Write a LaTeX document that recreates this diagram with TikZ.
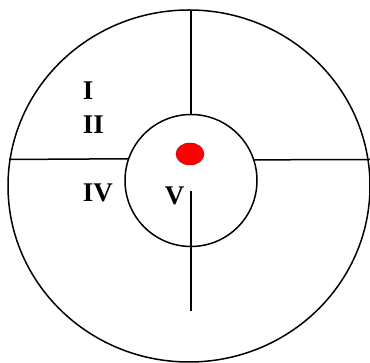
\documentclass[tikz,border=0pt]{standalone}
\usepackage{fontspec}
\setmainfont{Liberation Serif}
\usetikzlibrary{shapes.geometric}
\begin{document}
\begin{tikzpicture}[x=1pt,y=1pt,line width=1.5pt,
  lab/.style={font=\fontsize{27}{27}\selectfont\bfseries,inner sep=0pt,anchor=base west},
  ring/.style={draw,inner sep=0pt}]
\useasboundingbox (0,0) rectangle (370,363);
\fill[white] (0,0) rectangle (370,363);
\node[ring,ellipse,minimum width=362pt,minimum height=352pt] (outer) at (189,177) {};
\node[ring,circle,minimum size=132pt] (inner) at (191,182.5) {};
\node[ellipse,fill=red,draw=red!70!black,line width=0.5pt,minimum width=28pt,minimum height=22pt,inner sep=0pt] (dot) at (190,209) {};
\coordinate (t1) at (191,353);
\coordinate (l1) at (9,203.5);
\coordinate (r1) at (370,203.5);
\coordinate (b1) at (191,172);
\coordinate (b2) at (191,52);
\draw (t1) -- (inner.north);
\draw (l1) -- (inner.161.5);
\draw (inner.18.5) -- (r1);
\draw (b1) -- (b2);
\node[lab] (n1) at (82,263) {I};
\node[lab] (n2) at (82,229) {II};
\node[lab] (n4) at (82,161) {IV};
\node[lab] (n5) at (164,158) {V};
\end{tikzpicture}
\end{document}
